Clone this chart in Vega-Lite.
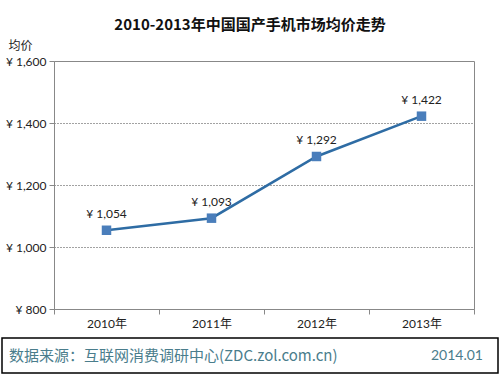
{
  "$schema": "https://vega.github.io/schema/vega-lite/v6.json",
  "padding": {"left": 1, "right": 2, "top": 17, "bottom": 1},
  "background": "white",
  "title": {"text": "2010-2013年中国国产手机市场均价走势", "fontSize": 15, "fontWeight": "bold", "color": "#111", "font": "Noto Sans CJK SC", "anchor": "middle", "offset": 6},
  "spacing": 7,
  "config": {"font": "Lato, 'Noto Sans CJK SC'", "view": {"stroke": "#888"},
    "locale": {"number": {"decimal": ".", "thousands": ",", "grouping": [3], "currency": ["¥ ", ""]}}},
  "vconcat": [
    {
      "spacing": 0,
      "hconcat": [
        {
          "width": 1,
          "height": 248,
          "view": {"stroke": "transparent"},
          "data": {"values": [{"blank": ""}]},
          "mark": {"type": "text", "opacity": 0},
          "encoding": {"text": {"field": "blank", "type": "nominal"}}
        },
        {
          "width": 420,
          "height": 248,
          "data": {"values": [
            {"year": "2010年", "price": 1054},
            {"year": "2011年", "price": 1093},
            {"year": "2012年", "price": 1292},
            {"year": "2013年", "price": 1422}
          ]},
          "encoding": {
            "x": {"field": "year", "type": "nominal", "bandPosition": 0.5,
              "scale": {"type": "band", "paddingInner": 0, "paddingOuter": 0},
              "axis": {"title": null, "labelAngle": 0, "tickBand": "extent", "domainColor": "#888", "tickColor": "#888", "tickSize": 5, "labelFontSize": 12, "labelColor": "#222", "labelPadding": 4, "grid": false}},
            "y": {"field": "price", "type": "quantitative",
              "scale": {"domain": [800, 1600], "nice": false},
              "axis": {"values": [800, 1000, 1200, 1400, 1600], "format": "$,.0f", "labelFontSize": 12, "labelColor": "#222", "tickSize": 5, "tickColor": "#888", "domainColor": "#888", "labelPadding": 3,
                "grid": true, "gridColor": "#444", "gridDash": [1, 2], "gridOpacity": {"condition": {"test": "datum.value == 800 || datum.value == 1600", "value": 0}, "value": 1},
                "title": "均价", "titleAngle": 0, "titleAlign": "left", "titleBaseline": "alphabetic", "titleX": -46, "titleY": -12, "titleFontSize": 12, "titleFontWeight": "normal", "titleColor": "#222", "titleFont": "Noto Sans CJK SC"}}
          },
          "layer": [
            {"mark": {"type": "line", "color": "#2e6ca4", "strokeWidth": 2.5}},
            {"mark": {"type": "point", "shape": "square", "filled": true, "size": 90, "color": "#4a7ebb", "opacity": 1}},
            {"mark": {"type": "text", "dy": -16, "fontSize": 12, "color": "#222"}, "encoding": {"text": {"field": "price", "type": "quantitative", "format": "$,"}}}
          ]
        }
      ]
    },
    {
      "width": 496,
      "height": 35,
      "view": {"stroke": "#000", "strokeWidth": 1.5},
      "data": {"values": [
        {"side": "left", "label": "数据来源：互联网消费调研中心(ZDC.zol.com.cn)"},
        {"side": "right", "label": "2014.01"}
      ]},
      "encoding": {
        "x": {"field": "side", "type": "nominal", "scale": {"type": "point", "domain": ["left", "right"], "padding": 0}, "axis": null},
        "text": {"field": "label", "type": "nominal"}
      },
      "layer": [
        {"transform": [{"filter": "datum.side == 'left'"}], "mark": {"type": "text", "align": "left", "baseline": "middle", "dx": 7, "fontSize": 15, "color": "#4a7d8c", "font": "Noto Sans CJK SC"}},
        {"transform": [{"filter": "datum.side == 'right'"}], "mark": {"type": "text", "align": "right", "baseline": "middle", "dx": -15, "fontSize": 14, "color": "#4a7d8c", "font": "Lato, 'Noto Sans CJK SC'"}}
      ]
    }
  ]
}
